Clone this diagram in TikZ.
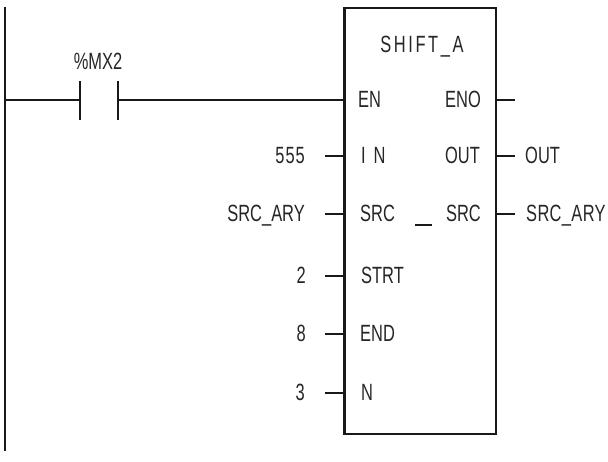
\documentclass[tikz,border=0pt]{standalone}
\usepackage{fontspec}
\setmainfont{Liberation Sans}[FakeStretch=0.7]
\begin{document}
\begin{tikzpicture}[x=1pt,y=-1pt,
  wire/.style={line width=2pt,black!90},
  lbl/.style={inner sep=0pt,font=\fontsize{23.5}{25}\selectfont,text=black!85,text height=16pt,text depth=0pt},
  lft/.style={lbl,anchor=west},
  rgt/.style={lbl,anchor=east}]
\useasboundingbox (0,0) rectangle (608,462);
\fill[white] (0,0) rectangle (608,462);
% power rail
\coordinate (railtop) at (4.5,7);
\coordinate (railbot) at (4.5,451);
\coordinate (railtap) at (4.5,100.5);
\draw[wire] (railtop) -- (railbot);
% block
\node[draw=black!90,line width=2.1pt,minimum width=151.5pt,minimum height=426pt,inner sep=0pt] (fb) at (420.25,221) {};
% contact
\coordinate (c1t) at (80,81); \coordinate (c1b) at (80,120); \coordinate (c1m) at (80,100.5);
\coordinate (c2t) at (118,81); \coordinate (c2b) at (118,120); \coordinate (c2m) at (118,100.5);
\draw[wire] (c1t) -- (c1b);
\draw[wire] (c2t) -- (c2b);
\draw[wire] (railtap) -- (c1m);
\draw[wire] (c2m) -- (fb.west |- c2m);
\node[lbl] (contact) at (98,62) {\%MX2};
% title and pin labels
\node[lbl] (title) at (422,45) {\addfontfeature{LetterSpace=11}SHIFT\_A};
\node[lft] (pEN) at (358,100) {EN};
\node[lft] (pIN) at (361,156) {I\,\,N};
\node[lft] (pSRC) at (360,214) {SRC};
\node[lft] (pSTRT) at (361,276) {STRT};
\node[lft] (pEND) at (360,334) {END};
\node[lft] (pN) at (361,392.5) {N};
\node[rgt] (pENO) at (481,100) {ENO};
\node[rgt] (pOUT) at (480,156) {OUT};
\node[rgt] (qSRC) at (481,214) {SRC};
% separator
\coordinate (d1) at (415,225); \coordinate (d2) at (432,225);
\draw[wire] (d1) -- (d2);
% input values
\node[rgt] (v1) at (305,156) {\addfontfeature{LetterSpace=4}555};
\node[rgt] (v2) at (305,214) {SRC\_ARY};
\node[rgt] (v3) at (306,276) {2};
\node[rgt] (v4) at (306,334) {8};
\node[rgt] (v5) at (305,392.5) {3};
% output values
\node[lft] (o1) at (525,156) {OUT};
\node[lft] (o2) at (526,214) {\addfontfeature{LetterSpace=1.5}SRC\_ARY};
% stubs
\foreach \n/\y in {a/156,b/214,c/276,d/334,e/392.5}{
  \coordinate (s\n) at (325,\y);
  \draw[wire] (s\n) -- (fb.west |- s\n);
}
\foreach \n/\y in {f/100,g/156,h/214}{
  \coordinate (s\n) at (515,\y);
  \draw[wire] (fb.east |- s\n) -- (s\n);
}
\end{tikzpicture}
\end{document}
